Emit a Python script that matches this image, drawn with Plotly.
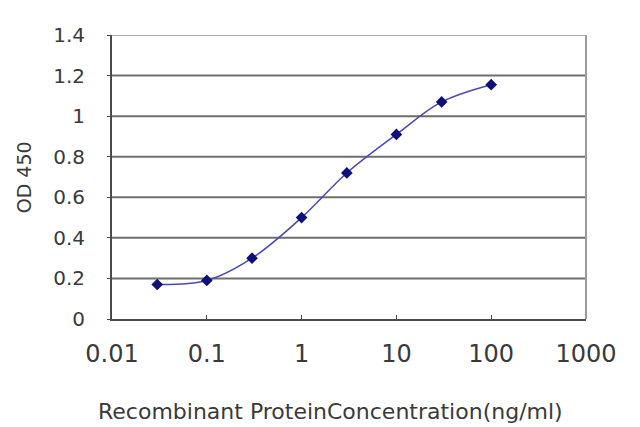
import plotly.graph_objects as go

# ELISA standard curve
conc = [0.03, 0.1, 0.3, 1, 3, 10, 30, 100]
od450 = [0.17, 0.19, 0.30, 0.50, 0.72, 0.91, 1.07, 1.155]

x_tickvals = [0.01, 0.1, 1, 10, 100, 1000]
x_ticktext = ['0.01', '0.1', '1', '10', '100', '1000']
y_tickvals = [0, 0.2, 0.4, 0.6, 0.8, 1, 1.2, 1.4]
y_ticktext = ['0', '0.2', '0.4', '0.6', '0.8', '1', '1.2', '1.4']

fnt = 'DejaVu Sans'

fig = go.Figure()
fig.add_trace(go.Scatter(x=conc, y=od450, mode='lines+markers',
                         line=dict(color='#4848b8', width=1.5, shape='spline'),
                         marker=dict(symbol='diamond', size=9, color='#10107a'),
                         showlegend=False))

# grey horizontal lines (1.4 line is lighter, like the frame)
for v in y_tickvals[1:]:
    fig.add_shape(type='line', xref='paper', x0=0, x1=1, yref='y', y0=v, y1=v,
                  line=dict(color='#a8a8a8' if v == 1.4 else '#6e6e6e', width=2),
                  layer='below')
# right frame
fig.add_shape(type='line', xref='paper', x0=1, x1=1, yref='paper', y0=0, y1=1,
              line=dict(color='#9a9a9a', width=2), layer='below')

# page body adds ~8px, so margins are shifted to land the plot where the reference has it
fig.update_layout(
    width=640, height=427,
    margin=dict(l=104, r=62, t=27, b=116),
    paper_bgcolor='white', plot_bgcolor='white',
    font=dict(family=fnt, color='#333333'),
    xaxis=dict(type='log', range=[-2, 3], tickvals=x_tickvals, ticktext=x_ticktext,
               showgrid=False, zeroline=False, showline=True, linecolor='#4a4a4a',
               linewidth=2, ticks='inside', ticklen=4, tickcolor='#4a4a4a',
               tickfont=dict(size=24, family=fnt, color='#3a3a3a'),
               ticklabelstandoff=12),
    yaxis=dict(range=[0, 1.4], tickvals=y_tickvals, ticktext=y_ticktext,
               showgrid=False, zeroline=False, showline=True, linecolor='#4a4a4a',
               linewidth=2, ticks='outside', ticklen=3, tickcolor='#4a4a4a',
               tickfont=dict(size=20, family=fnt, color='#3a3a3a'),
               ticklabelstandoff=18),
)

fig.add_annotation(text='Recombinant ProteinConcentration(ng/ml)', xref='paper', yref='paper',
                   x=0.462, y=-0.325, xanchor='center', yanchor='middle', showarrow=False,
                   font=dict(size=22, family=fnt, color='#3a3a3a'))
fig.add_annotation(text='OD 450', xref='paper', yref='paper', textangle=-90,
                   x=-0.185, y=0.5, xanchor='center', yanchor='middle', showarrow=False,
                   font=dict(size=19, family=fnt, color='#3a3a3a'))

fig.write_html('out.html')
